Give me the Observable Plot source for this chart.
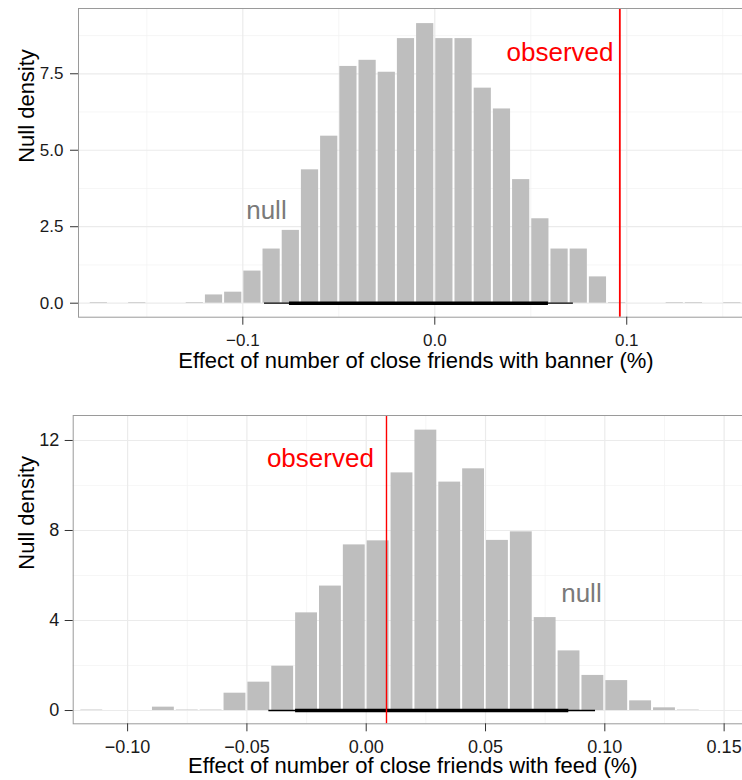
<!DOCTYPE html>
<html><head><meta charset="utf-8">
<script src="https://cdn.jsdelivr.net/npm/d3@7"></script>
<script src="https://cdn.jsdelivr.net/npm/@observablehq/plot@0.6"></script>
<style>
body{margin:0;background:#fff;}
svg{display:block;}
</style>
</head><body><div id="chart"></div>
<script>
// ---------- data ----------
const binWidth = 0.01;

// Panel 1: banner
const bannerBinStarts = [-0.18,-0.17,-0.16,-0.15,-0.14,-0.13,-0.12,-0.11,-0.10,-0.09,-0.08,-0.07,-0.06,-0.05,-0.04,-0.03,-0.02,-0.01,0.00,0.01,0.02,0.03,0.04,0.05,0.06,0.07,0.08,0.09,0.10,0.11,0.12,0.13,0.14,0.15];
const bannerDensity   = [0.02,0,0.02,0,0,0.02,0.27,0.36,1.05,1.77,2.38,4.36,5.46,7.74,7.94,7.55,8.65,9.14,8.65,8.65,7.03,6.35,4.04,2.76,1.77,1.77,0.86,0.02,0,0,0.02,0.02,0,0.02];
const bannerObserved = 0.0964;
const bannerInterval95 = [-0.0887, 0.0722];
const bannerInterval90 = [-0.0757, 0.0592];
const bannerXTicks = [-0.1, 0, 0.1];
const bannerXMinor = [-0.15, -0.05, 0.05, 0.15];
const bannerYTicks = [0, 2.5, 5, 7.5];
const bannerYMinor = [1.25, 3.75, 6.25, 8.75];
const bannerTitle = "Effect of number of close friends with banner (%)";

// Panel 2: feed
const feedBinStarts = [-0.12,-0.11,-0.10,-0.09,-0.08,-0.07,-0.06,-0.05,-0.04,-0.03,-0.02,-0.01,0.00,0.01,0.02,0.03,0.04,0.05,0.06,0.07,0.08,0.09,0.10,0.11,0.12,0.13];
const feedDensity   = [0.02,0,0,0.15,0.02,0.02,0.77,1.26,1.97,4.34,5.53,7.36,7.54,10.56,12.46,10.15,10.74,7.56,7.94,4.13,2.65,1.56,1.33,0.43,0.12,0.02];
const feedObserved = 0.0085;
const feedInterval95 = [-0.0408, 0.0961];
const feedInterval90 = [-0.0296, 0.0849];
const feedXTicks = [-0.10, -0.05, 0, 0.05, 0.10, 0.15];
const feedXMinor = [-0.075, -0.025, 0.025, 0.075, 0.125];
const feedYTicks = [0, 4, 8, 12];
const feedYMinor = [2, 6, 10];
const feedTitle = "Effect of number of close friends with feed (%)";

const yTitle = "Null density";

// ---------- drawing ----------
const FONT = "'Liberation Sans', Arial, Helvetica, sans-serif";

function panel(cfg) {
  const bins = cfg.starts.map((s, i) => ({x0: s, x1: s + binWidth, d: cfg.density[i]}));
  return Plot.plot({
    width: 742,
    height: cfg.height,
    marginTop: cfg.mt, marginBottom: cfg.mb, marginLeft: cfg.ml, marginRight: 0,
    style: {fontFamily: FONT, background: "#fff", overflow: "visible"},
    x: {domain: cfg.xDomain},
    y: {domain: cfg.yDomain},
    marks: [
      Plot.gridX(cfg.xMinor, {stroke: "#f2f2f2", strokeOpacity: 1, strokeWidth: 0.7}),
      Plot.gridY(cfg.yMinor, {stroke: "#f2f2f2", strokeOpacity: 1, strokeWidth: 0.7}),
      Plot.gridX(cfg.xTicks, {stroke: "#ebebeb", strokeOpacity: 1, strokeWidth: 1.2}),
      Plot.gridY(cfg.yTicks, {stroke: "#ebebeb", strokeOpacity: 1, strokeWidth: 1.2}),
      Plot.rectY(bins, {x1: "x0", x2: "x1", y1: 0, y2: "d", fill: "#bebebe", insetLeft: 1, insetRight: 1}),
      Plot.ruleY([{lo: cfg.i95[0], hi: cfg.i95[1]}], {x1: "lo", x2: "hi", y: 0, stroke: "#000", strokeWidth: 1.3}),
      Plot.ruleY([{lo: cfg.i90[0], hi: cfg.i90[1]}], {x1: "lo", x2: "hi", y: 0, stroke: "#000", strokeWidth: 3.6}),
      Plot.ruleX([cfg.observed], {stroke: "#ff0000", strokeWidth: cfg.redWidth}),
      Plot.text([cfg.obsLabel], {x: "x", y: "y", text: "t", textAnchor: "end", lineAnchor: "bottom", fill: "#ff0000", fontSize: 26}),
      Plot.text([cfg.nullLabel], {x: "x", y: "y", text: "t", textAnchor: "middle", lineAnchor: "bottom", fill: "#7a7a7a", fontSize: 26}),
      Plot.frame({stroke: "#9a9a9a", strokeWidth: 1}),
      Plot.axisX(cfg.xTicks, {tickFormat: cfg.xFmt, tickSize: cfg.xTickSize, tickPadding: cfg.xTickPad, fontSize: cfg.tickFont, stroke: "#333", fill: "#1a1a1a", label: null}),
      Plot.axisY(cfg.yTicks, {tickFormat: cfg.yFmt, tickSize: 8, tickPadding: cfg.yTickPad, fontSize: cfg.tickFont, stroke: "#333", fill: "#1a1a1a", label: null}),
      Plot.text([cfg.title], {frameAnchor: "bottom", dy: cfg.titleDy, dx: cfg.titleDx, lineAnchor: "bottom", fontSize: 22, fill: "#000"}),
      Plot.text([yTitle], {frameAnchor: "left", rotate: -90, dx: cfg.yTitleDx, lineAnchor: "bottom", fontSize: 22, fill: "#000"})
    ]
  });
}

const bannerChart = panel({
  height: 380, mt: 8, mb: 63.3, ml: 78,
  xDomain: [-0.1856, 0.1603], yDomain: [-0.458, 9.634],
  starts: bannerBinStarts, density: bannerDensity,
  observed: bannerObserved, i95: bannerInterval95, i90: bannerInterval90,
  xTicks: bannerXTicks, xMinor: bannerXMinor, yTicks: bannerYTicks, yMinor: bannerYMinor,
  xFmt: d3.format(".1f"), yFmt: d3.format(".1f"),
  xTickSize: 8, xTickPad: 9, yTickPad: 7, tickFont: 17,
  obsLabel: {x: 0.0931, y: 7.93, t: "observed"},
  nullLabel: {x: -0.0877, y: 2.76, t: "null"},
  redWidth: 1.8,
  title: bannerTitle, titleDy: 50.6, titleDx: 5.5, yTitleDx: -44.7
});

const feedChart = panel({
  height: 400, mt: 35, mb: 56.7, ml: 72.7,
  xDomain: [-0.1228, 0.1577], yDomain: [-0.59, 13.11],
  starts: feedBinStarts, density: feedDensity,
  observed: feedObserved, i95: feedInterval95, i90: feedInterval90,
  xTicks: feedXTicks, xMinor: feedXMinor, yTicks: feedYTicks, yMinor: feedYMinor,
  xFmt: d3.format(".2f"), yFmt: d3.format("d"),
  xTickSize: 8, xTickPad: 8, yTickPad: 6, tickFont: 18,
  obsLabel: {x: 0.0032, y: 10.81, t: "observed"},
  nullLabel: {x: 0.0902, y: 4.81, t: "null"},
  redWidth: 1.4,
  title: feedTitle, titleDy: 49, titleDx: 5, yTitleDx: -39.4
});

document.getElementById("chart").append(bannerChart, feedChart);
</script>
</body></html>
